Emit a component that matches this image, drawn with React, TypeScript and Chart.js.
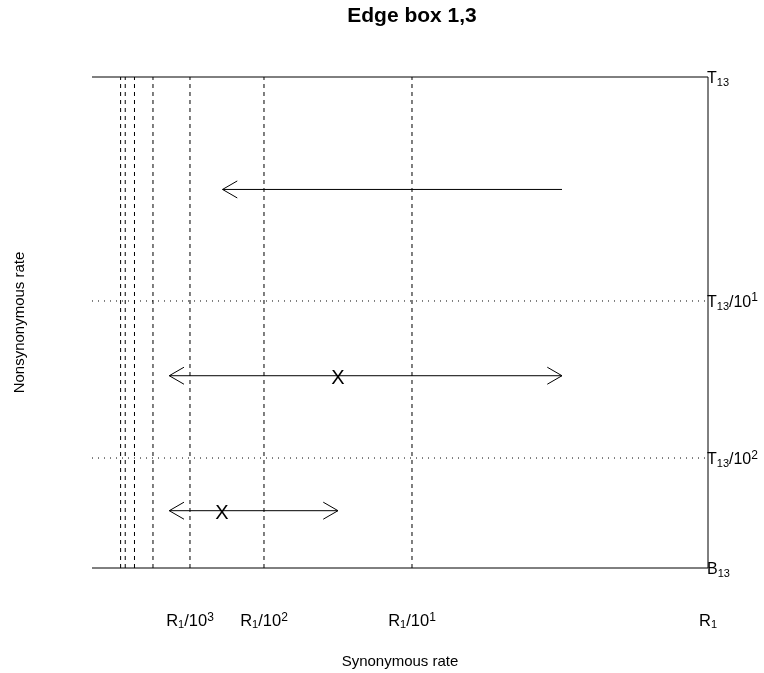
import React, { useEffect, useRef } from "react";
import { Chart, registerables } from "chart.js";

Chart.register(...registerables);

const FONT = '"Liberation Sans", Arial, Helvetica, sans-serif';

// Plot frame (axis units)
const xLeft = -0.0405;
const xRight = 1;
const yBottom = 0;
const yTop = 1;

// Dashed verticals at R1/10^k, k = 1..7 (axis units)
const dashedX = [0.5, 0.25, 0.125, 0.0625, 0.03125, 0.015625, 0.0078125];
// Dotted horizontals at T13/10 and T13/10^2
const dottedY = [0.5438, 0.224];

// X tick labels
const xTickValues = [0.125, 0.25, 0.5, 1];
const xTickPower = ["3", "2", "1", ""];

// Right-hand labels
const yTickValues = [1, 0.5438, 0.224, 0];
const yTickBase = ["T", "T", "T", "B"];
const yTickPower = ["", "1", "2", ""];

// Arrows
const arrowFromX = [0.7534, 0.09, 0.09];
const arrowToX = [0.18, 0.7534, 0.375];
const arrowY = [0.771, 0.3916, 0.1167];
const arrowBoth = [false, true, true];

// X marks
const markX = [0.375, 0.179];
const markY = [0.3916, 0.1167];

const TITLE = "Edge box 1,3";
const X_TITLE = "Synonymous rate";
const Y_TITLE = "Nonsynonymous rate";

type Part = { t: string; size: number; dy: number };

function drawRich(ctx: CanvasRenderingContext2D, parts: Part[], x: number, y: number, align: "left" | "center") {
  let total = 0;
  for (const p of parts) {
    ctx.font = `${p.size}px ${FONT}`;
    total += ctx.measureText(p.t).width;
  }
  let cx = align === "center" ? x - total / 2 : x;
  ctx.textAlign = "left";
  ctx.textBaseline = "alphabetic";
  for (const p of parts) {
    ctx.font = `${p.size}px ${FONT}`;
    ctx.fillText(p.t, cx, y + p.dy);
    cx += ctx.measureText(p.t).width;
  }
}

function seg(points: { x: number; y: number }[], dash: number[] = []) {
  return {
    data: points,
    showLine: true,
    borderColor: "#000",
    borderWidth: 1,
    borderDash: dash,
    pointRadius: 0,
    fill: false,
    clip: false as any,
    tension: 0,
  };
}

const annotPlugin = {
  id: "annot",
  afterDatasetsDraw(chart: any) {
    const ctx: CanvasRenderingContext2D = chart.ctx;
    const xs = chart.scales.x;
    const ys = chart.scales.y;
    ctx.save();
    ctx.fillStyle = "#000";
    ctx.strokeStyle = "#000";
    ctx.lineWidth = 1;

    // arrowheads
    const head = (tipX: number, tipY: number, dir: number) => {
      const L = 17;
      const a = Math.PI / 6;
      ctx.beginPath();
      ctx.moveTo(tipX - dir * L * Math.cos(a), tipY - L * Math.sin(a));
      ctx.lineTo(tipX, tipY);
      ctx.lineTo(tipX - dir * L * Math.cos(a), tipY + L * Math.sin(a));
      ctx.stroke();
    };
    arrowY.forEach((yv, i) => {
      const py = ys.getPixelForValue(yv);
      const p0 = xs.getPixelForValue(arrowFromX[i]);
      const p1 = xs.getPixelForValue(arrowToX[i]);
      const dir = p1 > p0 ? 1 : -1;
      head(p1, py, dir);
      if (arrowBoth[i]) head(p0, py, -dir);
    });

    // X marks
    ctx.font = `20px ${FONT}`;
    ctx.textAlign = "center";
    ctx.textBaseline = "alphabetic";
    markX.forEach((mx, i) => {
      ctx.fillText("X", xs.getPixelForValue(mx), ys.getPixelForValue(markY[i]) + 8);
    });

    // bottom tick labels
    xTickValues.forEach((v, i) => {
      const parts: Part[] = [
        { t: "R", size: 16.5, dy: 0 },
        { t: "1", size: 11, dy: 2 },
      ];
      if (xTickPower[i]) {
        parts.push({ t: "/10", size: 16.5, dy: 0 });
        parts.push({ t: xTickPower[i], size: 12, dy: -5.5 });
      }
      drawRich(ctx, parts, xs.getPixelForValue(v), 626, "center");
    });

    // right labels
    yTickValues.forEach((v, i) => {
      const parts: Part[] = [
        { t: yTickBase[i], size: 16, dy: 0 },
        { t: "13", size: 11, dy: 3 },
      ];
      if (yTickPower[i]) {
        parts.push({ t: "/10", size: 16, dy: 0 });
        parts.push({ t: yTickPower[i], size: 12, dy: -5.5 });
      }
      drawRich(ctx, parts, xs.getPixelForValue(xRight) - 1, ys.getPixelForValue(v) + 6, "left");
    });

    // title
    ctx.font = `bold 21px ${FONT}`;
    ctx.textAlign = "center";
    ctx.fillText(TITLE, 412, 22);

    // axis titles
    ctx.font = `15px ${FONT}`;
    ctx.fillText(X_TITLE, (chart.chartArea.left + chart.chartArea.right) / 2, 666);
    ctx.save();
    ctx.translate(24, (chart.chartArea.top + chart.chartArea.bottom) / 2);
    ctx.rotate(-Math.PI / 2);
    ctx.fillText(Y_TITLE, 0, 0);
    ctx.restore();

    ctx.restore();
  },
};

export default function App() {
  const ref = useRef<HTMLCanvasElement | null>(null);
  useEffect(() => {
    if (!ref.current) return;
    const datasets: any[] = [];
    // frame
    datasets.push(seg([{ x: xLeft, y: yTop }, { x: xRight, y: yTop }]));
    datasets.push(seg([{ x: xLeft, y: yBottom }, { x: xRight, y: yBottom }]));
    datasets.push(seg([{ x: xRight, y: yBottom }, { x: xRight, y: yTop }]));
    // dashed verticals
    dashedX.forEach((x) => datasets.push(seg([{ x, y: yBottom }, { x, y: yTop }], [4, 4])));
    // dotted horizontals
    dottedY.forEach((y) => datasets.push(seg([{ x: xLeft, y }, { x: xRight, y }], [1, 5])));
    // arrow shafts
    arrowY.forEach((y, i) => datasets.push(seg([{ x: arrowFromX[i], y }, { x: arrowToX[i], y }])));

    const chart = new Chart(ref.current, {
      type: "scatter",
      data: { datasets },
      options: {
        responsive: false,
        animation: false,
        events: [],
        layout: { padding: { left: 92, right: 56, top: 77, bottom: 105 } },
        scales: {
          x: { type: "linear", display: false, min: xLeft, max: xRight },
          y: { type: "linear", display: false, min: yBottom, max: yTop },
        },
        plugins: {
          legend: { display: false },
          tooltip: { enabled: false },
          title: { display: false },
        },
      },
      plugins: [annotPlugin],
    } as any);
    return () => chart.destroy();
  }, []);
  return (
    <div style={{ position: "absolute", left: 0, top: 0, width: 764, height: 673, background: "#fff" }}>
      <canvas ref={ref} width={764} height={673} style={{ display: "block" }} />
    </div>
  );
}
